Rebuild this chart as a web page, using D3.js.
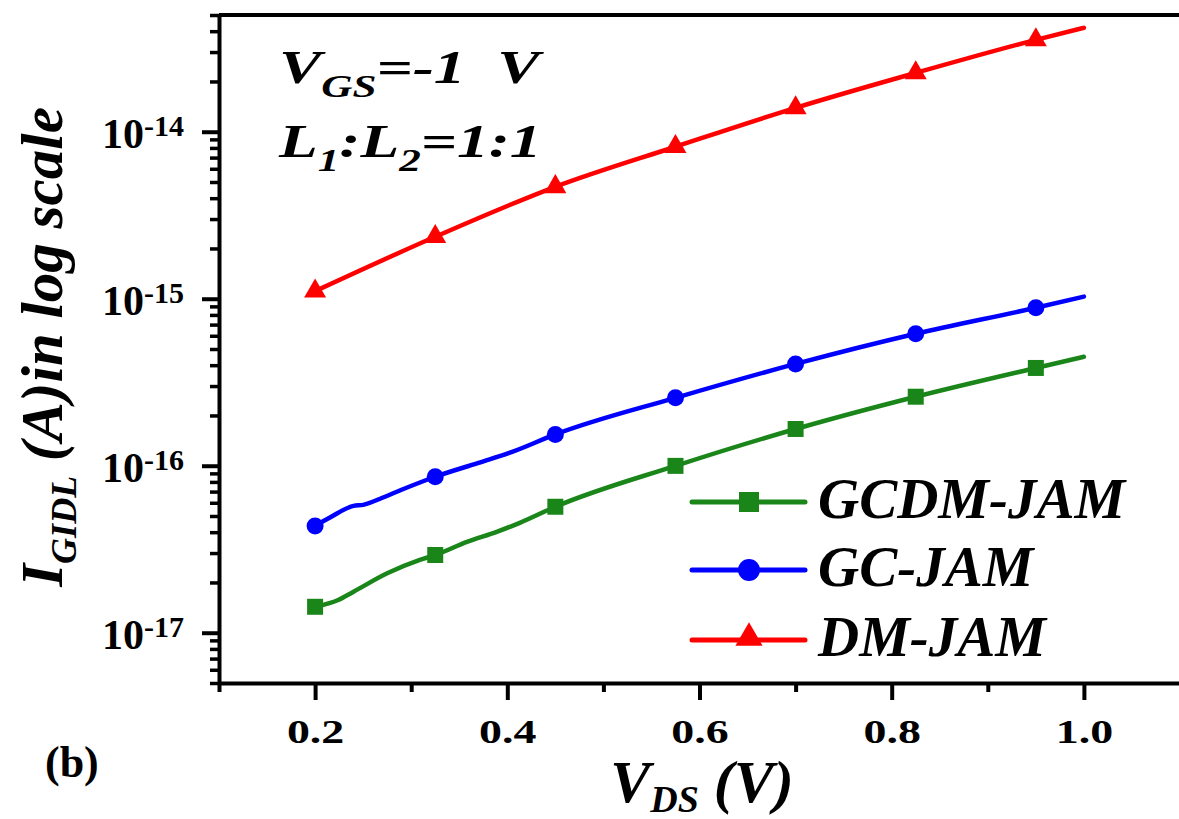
<!DOCTYPE html>
<html>
<head>
<meta charset="utf-8">
<script src="https://cdn.jsdelivr.net/npm/d3@7"></script>
<style>
  body { margin: 0; background: #fff; }
</style>
</head>
<body>
<div id="graph-area"></div>
<script>
// V_DS values where the markers sit, plus the end of the curves at 1.0 V
const vds = [0.2, 0.325, 0.45, 0.575, 0.7, 0.825, 0.95, 1.0];

// I_GIDL (A)
const gcdmJam = [1.43e-17, 2.92e-17, 5.68e-17, 9.98e-17, 1.66e-16, 2.59e-16, 3.85e-16, 4.49e-16];
const gcJam = [4.36e-17, 8.59e-17, 1.54e-16, 2.55e-16, 4.07e-16, 6.17e-16, 8.83e-16, 1.03e-15];
const dmJam = [1.11e-15, 2.35e-15, 4.68e-15, 8.13e-15, 1.39e-14, 2.25e-14, 3.55e-14, 4.19e-14];

// extra traced points on the wiggly low-bias part of the curves
const gcdmTraceV = [0.224, 0.24, 0.275, 0.309, 0.358, 0.389, 0.413];
const gcdmTrace = [1.57e-17, 1.76e-17, 2.27e-17, 2.73e-17, 3.5e-17, 4.02e-17, 4.55e-17];
const gcTraceV = [0.215, 0.24, 0.25, 0.27, 0.29, 0.37, 0.405];
const gcTrace = [4.88e-17, 5.75e-17, 5.83e-17, 6.43e-17, 7.18e-17, 1.04e-16, 1.21e-16];

const seriesNames = ["GCDM-JAM", "GC-JAM", "DM-JAM"];
const seriesColors = ["#1a861a", "#0000ff", "#ff0000"];
const seriesSymbols = [d3.symbolSquare, d3.symbolCircle, d3.symbolTriangle];

const xTicks = [0.2, 0.4, 0.6, 0.8, 1.0];
const xMinorTicks = [0.1, 0.3, 0.5, 0.7, 0.9];

const width = 1179;
const height = 819;
const serif = "'Liberation Serif', 'Times New Roman', Tinos, 'Nimbus Roman', Times, serif";

const svg = d3
  .select("#graph-area")
  .append("svg")
  .attr("width", width)
  .attr("height", height)
  .attr("font-family", serif)
  .attr("font-weight", "bold");

svg.append("rect").attr("width", width).attr("height", height).attr("fill", "#fff");

const x = d3.scaleLinear().domain([0.1, 1.1]).range([219, 1180]);
const y = d3.scaleLog().domain([5e-18, 5e-14]).range([683, 15]);

function zip(xs, ys) {
  return xs.map(function (v, i) {
    return { v: v, i: ys[i] };
  });
}

const series = [
  { pts: zip(vds, gcdmJam), extra: zip(gcdmTraceV, gcdmTrace) },
  { pts: zip(vds, gcJam), extra: zip(gcTraceV, gcTrace) },
  { pts: zip(vds, dmJam), extra: [] },
];

// frame top line
svg
  .append("line")
  .attr("x1", x(0.1))
  .attr("x2", width)
  .attr("y1", y(5e-14))
  .attr("y2", y(5e-14))
  .attr("stroke", "#000")
  .attr("stroke-width", 4);

// x axis
const xAxisG = svg.append("g").attr("transform", "translate(0," + y(5e-18) + ")");
xAxisG
  .append("g")
  .call(d3.axisBottom(x).tickValues(xMinorTicks).tickSize(9).tickSizeOuter(0).tickFormat(""))
  .call(function (g) {
    g.select(".domain").remove();
  });
xAxisG
  .append("g")
  .call(d3.axisBottom(x).tickValues(xTicks).tickSize(17).tickSizeOuter(0).tickFormat(d3.format(".1f")));
xAxisG.selectAll("line").attr("stroke-width", 4);
xAxisG.selectAll(".domain").attr("stroke-width", 4);
xAxisG
  .selectAll("text")
  .attr("y", 60)
  .attr("dy", 0)
  .attr("fill", "#000")
  .attr("font-family", serif)
  .attr("font-size", 34)
  .attr("transform", "scale(1.35,1)");

// y axis
const allY = y.ticks();
const yMajor = allY.filter(function (d) {
  return Math.abs(Math.log10(d) - Math.round(Math.log10(d))) < 1e-6;
});
const yMinor = allY.filter(function (d) {
  return yMajor.indexOf(d) < 0;
});

const yAxisG = svg.append("g").attr("transform", "translate(" + x(0.1) + ",0)");
yAxisG
  .append("g")
  .call(d3.axisLeft(y).tickValues(yMinor).tickSize(9).tickSizeOuter(0).tickFormat(""))
  .call(function (g) {
    g.select(".domain").remove();
  })
  .selectAll("line")
  .attr("stroke-width", 3.5);
const yMajorG = yAxisG
  .append("g")
  .call(d3.axisLeft(y).tickValues(yMajor).tickSize(17).tickSizeOuter(0).tickFormat(""));
yMajorG.selectAll("line").attr("stroke-width", 4);
yMajorG.select(".domain").attr("stroke-width", 4);
yMajorG.selectAll(".tick text").remove();
yMajorG
  .selectAll(".tick")
  .append("text")
  .attr("x", -35)
  .attr("y", 16)
  .attr("text-anchor", "end")
  .attr("fill", "#000")
  .attr("font-family", serif)
  .attr("font-size", 42)
  .each(function (d) {
    const t = d3.select(this);
    t.append("tspan").text("10");
    t.append("tspan")
      .attr("dy", -12)
      .attr("font-size", 30)
      .text(Math.round(Math.log10(d)));
  });

// curves
const line = d3
  .line()
  .x(function (d) {
    return x(d.v);
  })
  .y(function (d) {
    return y(d.i);
  })
  .curve(d3.curveMonotoneX);

series.forEach(function (s, k) {
  const pts = s.pts.concat(s.extra).sort(function (a, b) {
    return a.v - b.v;
  });
  svg
    .append("path")
    .datum(pts)
    .attr("d", line)
    .attr("fill", "none")
    .attr("stroke", seriesColors[k])
    .attr("stroke-width", 4.5)
    .attr("stroke-linejoin", "round")
    .attr("stroke-linecap", "round");

  const markerSizes = [256, 227, 210];
  svg
    .selectAll(".mk" + k)
    .data(s.pts.slice(0, 7))
    .enter()
    .append("path")
    .attr("class", "mk" + k)
    .attr("transform", function (d) {
      return "translate(" + x(d.v) + "," + y(d.i) + ")";
    })
    .attr("d", d3.symbol().type(seriesSymbols[k]).size(markerSizes[k]))
    .attr("fill", seriesColors[k]);
});

// legend
const legendRows = [502, 570, 640];
const legendSizes = [400, 380, 320];
seriesNames.forEach(function (name, k) {
  const g = svg.append("g").attr("transform", "translate(0," + legendRows[k] + ")");
  g.append("line")
    .attr("x1", 692)
    .attr("x2", 805)
    .attr("stroke", seriesColors[k])
    .attr("stroke-width", 5)
    .attr("stroke-linecap", "round");
  g.append("path")
    .attr("transform", "translate(749," + (k === 2 ? -2 : 0) + ")")
    .attr("d", d3.symbol().type(seriesSymbols[k]).size(legendSizes[k]))
    .attr("fill", seriesColors[k]);
  g.append("text")
    .attr("x", 818)
    .attr("y", 16)
    .attr("font-size", 57)
    .attr("font-style", "italic")
    .attr("fill", "#000")
    .text(name);
});

// annotations
const vgs = svg
  .append("text")
  .attr("transform", "translate(279,83) scale(1.35,1)")
  .attr("font-size", 47)
  .attr("font-style", "italic")
  .attr("fill", "#000");
vgs.append("tspan").text("V");
vgs.append("tspan").attr("dy", 14).attr("font-size", 32).text("GS");
vgs.append("tspan").attr("dy", -14).text("=-1 \u00a0V");

const ratio = svg
  .append("text")
  .attr("transform", "translate(279,157) scale(1.35,1)")
  .attr("font-size", 47)
  .attr("font-style", "italic")
  .attr("fill", "#000");
ratio.append("tspan").text("L");
ratio.append("tspan").attr("dy", 14).attr("font-size", 32).text("1");
ratio.append("tspan").attr("dy", -14).text(":L");
ratio.append("tspan").attr("dy", 14).attr("font-size", 32).text("2");
ratio.append("tspan").attr("dy", -14).text("=1:1");

svg
  .append("text")
  .attr("x", 45)
  .attr("y", 777)
  .attr("font-size", 44)
  .attr("fill", "#000")
  .text("(b)");

// axis titles
const xTitle = svg
  .append("text")
  .attr("x", 702)
  .attr("y", 802)
  .attr("text-anchor", "middle")
  .attr("font-size", 60)
  .attr("font-style", "italic")
  .attr("fill", "#000");
xTitle.append("tspan").text("V");
xTitle.append("tspan").attr("dy", 10).attr("font-size", 38).text("DS");
xTitle.append("tspan").attr("dy", -10).text(" (V)");

const yTitle = svg
  .append("text")
  .attr("transform", "translate(62,347) rotate(-90)")
  .attr("text-anchor", "middle")
  .attr("font-size", 59)
  .attr("font-style", "italic")
  .attr("fill", "#000");
yTitle.append("tspan").text("I");
yTitle.append("tspan").attr("dy", 14).attr("font-size", 36).text("GIDL");
yTitle.append("tspan").attr("dy", -14).text(" (A)in log scale");
</script>
</body>
</html>
